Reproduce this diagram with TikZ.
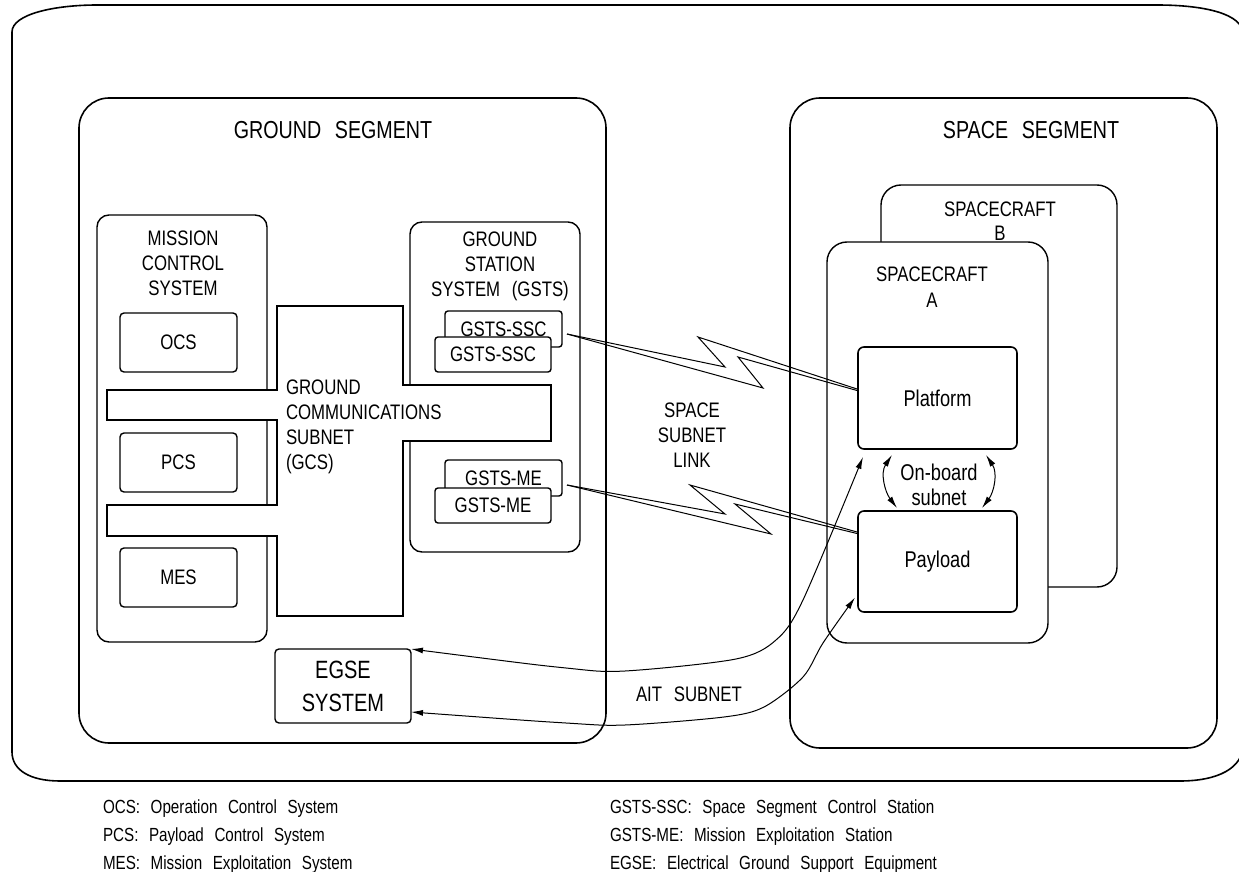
\documentclass[tikz,border=0pt]{standalone}
\usepackage{fontspec}
\setmainfont{Liberation Sans}[FakeStretch=0.8,WordSpace=2.5]
\usetikzlibrary{arrows.meta,calc}
\newcommand\ftTitle{\fontsize{12.3}{15}\selectfont}
\newcommand\ftNorm{\fontsize{10.5}{12.5}\selectfont}
\newcommand\ftMid{\fontsize{11.4}{12.5}\selectfont}
\newcommand\ftBig{\fontsize{12.5}{16.5}\selectfont}
\newcommand\ftLeg{\fontsize{9.5}{12}\selectfont}
\begin{document}
\begin{tikzpicture}[x=0.5pt,y=-0.5pt,
  every node/.style={inner sep=0pt, outer sep=0pt},
  framestyle/.style={draw, line width=0.8pt},
  segbox/.style={draw, line width=0.8pt, rounded corners=15pt},
  sysbox/.style={draw, line width=0.7pt, rounded corners=6pt, fill=white},
  craftbox/.style={draw, line width=0.7pt, rounded corners=10pt, fill=white},
  unitbox/.style={draw, line width=0.7pt, rounded corners=2pt, fill=white, font=\ftNorm},
  modbox/.style={draw, line width=0.8pt, rounded corners=3pt, fill=white, font=\ftMid},
  boltline/.style={line width=0.5pt},
  linkarrow/.style={line width=0.5pt, arrows={Latex[length=6pt,width=3pt]-Latex[length=6pt,width=3pt]}},
  lbl/.style={font=\ftNorm, align=center},
  legend/.style={font=\ftLeg, anchor=base west},
]
\fill[white] (0,0) rectangle (1239,872);
\useasboundingbox (0,0) rectangle (1239,872);

% outer frame
\draw[framestyle] (12,32) .. controls (12,14) and (55,5) .. (97,5) -- (1157,5)
  .. controls (1205,5) and (1243,14) .. (1243,34) -- (1243,745)
  .. controls (1243,768) and (1218,781) .. (1180,781) -- (60,781)
  .. controls (30,781) and (12,770) .. (12,752) -- cycle;

% segments
\node[segbox, minimum width=263.5pt, minimum height=322.5pt] (gs) at (342.5,420.5) {};
\node[font=\ftTitle] (gstitle) at (333,130) {GROUND SEGMENT};
\node[segbox, minimum width=213.5pt, minimum height=325pt] (ss) at (1003.5,423) {};
\node[font=\ftTitle] (sstitle) at (1031,130) {SPACE SEGMENT};

% spacecraft
\node[craftbox, minimum width=118pt, minimum height=201pt] (scb) at (999,386) {};
\node[lbl, font=\fontsize{10.5}{12}\selectfont] (scblabel) at (1000,221) {SPACECRAFT\\B};
\node[craftbox, minimum width=110.5pt, minimum height=200.5pt] (sca) at (937.5,442.5) {};
\node[lbl, font=\fontsize{10.5}{13}\selectfont] (scalabel) at (932,287) {SPACECRAFT\\A};
\node[modbox, minimum width=79.5pt, minimum height=51pt] (platform) at (937.5,398) {Platform};
\node[modbox, minimum width=79.5pt, minimum height=50.5pt] (payload) at (937.5,561.5) {Payload};
\node[lbl, font=\ftMid] (onb) at (939,485) {On-board\\subnet};

% mission control system
\node[sysbox, minimum width=85pt, minimum height=213.5pt] (mcs) at (182,428.5) {};
\node[lbl] (mcslabel) at (183,263) {MISSION\\CONTROL\\SYSTEM};
\node[unitbox, minimum width=58.5pt, minimum height=29.5pt] (ocs) at (178.5,342.5) {OCS};
\node[unitbox, minimum width=58.5pt, minimum height=29.5pt] (pcs) at (178.5,462.5) {PCS};
\node[unitbox, minimum width=58.5pt, minimum height=29.5pt] (mes) at (178.5,577.5) {MES};

% ground station system
\node[sysbox, minimum width=85pt, minimum height=165pt] (gsts) at (495,387) {};
\node[lbl] (gstslabel) at (500,266) {GROUND\\STATION\\SYSTEM (GSTS)};

% ground communications subnet
\draw[line width=0.8pt, fill=white] (277,306) -- (403,306) -- (403,385) -- (551,385)
  -- (551,441) -- (403,441) -- (403,616) -- (277,616) -- (277,536) -- (107,536)
  -- (107,505) -- (277,505) -- (277,420) -- (107,420) -- (107,390) -- (277,390) -- cycle;
\node[font=\ftNorm, anchor=west, align=left] (gcslabel) at (286,427) {GROUND\\COMMUNICATIONS\\SUBNET\\(GCS)};

% ground station units
\node[unitbox, rounded corners=1.5pt, minimum width=58.5pt, minimum height=18pt] (sscback) at (503.5,329) {GSTS-SSC};
\node[unitbox, rounded corners=1.5pt, minimum width=58pt, minimum height=17.5pt] (sscfront) at (493,354.5) {GSTS-SSC};
\node[unitbox, rounded corners=1.5pt, minimum width=58.5pt, minimum height=18pt] (meback) at (503.5,478) {GSTS-ME};
\node[unitbox, rounded corners=1.5pt, minimum width=58pt, minimum height=17.5pt] (mefront) at (493,505.5) {GSTS-ME};

% EGSE
\node[unitbox, font=\ftBig, align=center, minimum width=68pt, minimum height=37pt] (egse) at (343,686) {EGSE\\SYSTEM};

% labels
\node[lbl] (sslink) at (692,435) {SPACE\\SUBNET\\LINK};
\node[font=\ftNorm] (ait) at (689,694) {AIT SUBNET};

% space subnet links (lightning)
\coordinate (sscstart) at ($(sscback.east)+(5,5)$);
\coordinate (sscend) at ($(platform.west)+(-1,-9)$);
\draw[boltline] (sscstart) -- (725,367) -- (698,337) -- (sscend);
\draw[boltline] (sscstart) -- (763,388) -- (738,357) -- ($(sscend)+(0,1.5)$);
\coordinate (mestart) at ($(meback.east)+(5,7)$);
\coordinate (meend) at ($(payload.west)+(-1,-29.5)$);
\draw[boltline] (mestart) -- (725,514) -- (690,485) -- (meend);
\draw[boltline] (mestart) -- (771,534) -- (735,504) -- ($(meend)+(0,1.5)$);

% on-board subnet
\coordinate (obl1) at ($(platform.south west)+(34,6)$);
\coordinate (obr1) at ($(platform.south west)+(128,6)$);
\coordinate (obl2) at ($(payload.north west)+(39,-3)$);
\coordinate (obr2) at ($(payload.north west)+(124,-3)$);
\draw[linkarrow] (obl1) .. controls +(-12,18) and +(-12,-16) .. (obl2);
\draw[linkarrow] (obr1) .. controls +(12,18) and +(12,-16) .. (obr2);

% AIT subnet
\coordinate (uptip) at ($(platform.south west)+(5,8)$);
\coordinate (lowstart) at ($(egse.south east)+(0,-11)$);
\coordinate (lowtip) at ($(payload.west)+(-3,36)$);
\draw[linkarrow] plot[smooth, tension=0.5] coordinates {(egse.north east) (566,668) (625,671) (736,659) (776,640) (803,600) (uptip)};
\draw[linkarrow] plot[smooth, tension=0.5] coordinates {(lowstart) (566,723) (625,725) (724,717) (764,707) (803,677) (823,643) (lowtip)};

% legend
\node[legend] (leg1) at (103,813) {OCS: Operation Control System};
\node[legend] (leg2) at (103,841) {PCS: Payload Control System};
\node[legend] (leg3) at (103,869) {MES: Mission Exploitation System};
\node[legend] (leg4) at (610,813) {GSTS-SSC: Space Segment Control Station};
\node[legend] (leg5) at (610,841) {GSTS-ME: Mission Exploitation Station};
\node[legend] (leg6) at (610,869) {EGSE: Electrical Ground Support Equipment};
\end{tikzpicture}
\end{document}
